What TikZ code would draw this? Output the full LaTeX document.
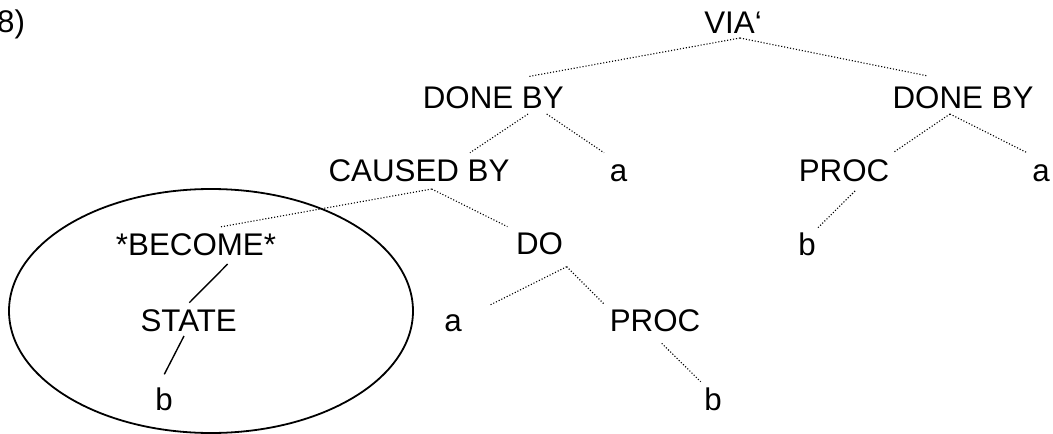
\documentclass[tikz,border=0pt]{standalone}
\usepackage{fontspec}
\setmainfont{Liberation Sans}
\begin{document}
\begin{tikzpicture}[x=1pt,y=-1pt,
  lbl/.style={inner sep=0pt,outer sep=0pt,anchor=base,font=\fontsize{31.3}{36}\selectfont},
  dotline/.style={line width=1.1pt,dash pattern=on 1.1pt off 1.9pt},
  solidline/.style={line width=1.4pt},
  ring/.style={line width=1.8pt}]
\useasboundingbox (0,0) rectangle (1053,434);
\node[lbl,anchor=base east] (num) at (25,32) {(8)};
\node[lbl] (via) at (733,33) {VIA‘};
\node[lbl] (doneL) at (493.3,108) {DONE BY};
\node[lbl] (doneR) at (963,108) {DONE BY};
\node[lbl] (caused) at (419,181) {CAUSED BY};
\node[lbl] (a1) at (618.5,181) {a};
\node[lbl] (proc1) at (844,181) {PROC};
\node[lbl] (a2) at (1041,181) {a};
\node[lbl] (become) at (196,255) {*BECOME*};
\node[lbl] (do) at (539.5,254) {DO};
\node[lbl] (b1) at (807,255) {b};
\node[lbl] (state) at (188.7,331) {STATE};
\node[lbl] (a3) at (453,331) {a};
\node[lbl] (proc2) at (655,331) {PROC};
\node[lbl] (b2) at (164,410) {b};
\node[lbl] (b3) at (713,410) {b};
% ellipse
\draw[ring] (211,311) ellipse [x radius=202, y radius=122];
% dotted connectors
\draw[dotline] ([shift={(7,5)}]via.base) -- ([shift={(34.4,-31.3)}]doneL.base);
\draw[dotline] ([shift={(7,5)}]via.base) -- ([shift={(-35,-32)}]doneR.base);
\draw[dotline] ([shift={(34.7,6)}]doneL.base) -- ([shift={(51,-28.3)}]caused.base);
\draw[dotline] ([shift={(53.4,6)}]doneL.base) -- ([shift={(-14.5,-28.3)}]a1.base);
\draw[dotline] ([shift={(-13,6)}]doneR.base) -- ([shift={(49,-28.3)}]proc1.base);
\draw[dotline] ([shift={(-13,6)}]doneR.base) -- ([shift={(-14,-28.3)}]a2.base);
\draw[dotline] ([shift={(12.7,8)}]caused.base) -- ([shift={(24,-28)}]become.base);
\draw[dotline] ([shift={(12.7,8)}]caused.base) -- ([shift={(-32,-27.3)}]do.base);
\draw[dotline] ([shift={(27.2,12.7)}]do.base) -- ([shift={(37,-26)}]a3.base);
\draw[dotline] ([shift={(27.2,12.7)}]do.base) -- ([shift={(-51,-27)}]proc2.base);
\draw[dotline] ([shift={(11,10)}]proc1.base) -- ([shift={(10.7,-27)}]b1.base);
\draw[dotline] ([shift={(6.7,12.3)}]proc2.base) -- ([shift={(-12.3,-28.3)}]b3.base);
% solid connectors
\draw[solidline] ([shift={(31.7,9)}]become.base) -- ([shift={(0.6,-28.3)}]state.base);
\draw[solidline] ([shift={(-4.7,5)}]state.base) -- ([shift={(0.3,-35.7)}]b2.base);
\end{tikzpicture}
\end{document}
